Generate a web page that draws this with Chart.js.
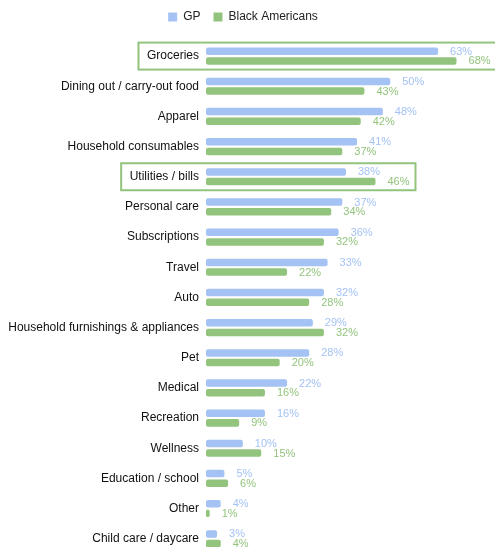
<!DOCTYPE html>
<html>
<head>
<meta charset="utf-8">
<script src="https://cdn.jsdelivr.net/npm/chart.js@4.4.1/dist/chart.umd.min.js"></script>
<style>
  html, body { margin: 0; padding: 0; background: #fff; overflow: hidden; }
  #wrap { width: 495px; height: 568px; position: relative; }
</style>
</head>
<body>
<div id="wrap"><canvas id="grafico"></canvas></div>
<script>
const categorias = [
    "Groceries", "Dining out / carry-out food", "Apparel", "Household consumables",
    "Utilities / bills", "Personal care", "Subscriptions", "Travel", "Auto",
    "Household furnishings & appliances", "Pet", "Medical", "Recreation",
    "Wellness", "Education / school", "Other", "Child care / daycare"
];
const valoresGP = [63, 50, 48, 41, 38, 37, 36, 33, 32, 29, 28, 22, 16, 10, 5, 4, 3];
const valoresBA = [68, 43, 42, 37, 46, 34, 32, 22, 28, 32, 20, 16, 9, 15, 6, 1, 4];
const destacadas = ["Groceries", "Utilities / bills"];

const azul = '#a4c2f4';
const verde = '#93c47d';

// más espacio bajo la leyenda
const espacioLeyenda = {
    id: 'espacioLeyenda',
    beforeInit(chart) {
        const fitOriginal = chart.legend.fit;
        chart.legend.fit = function () {
            fitOriginal.bind(chart.legend)();
            this.height += 8;
        };
    }
};

// etiquetas de valor al final de cada barra
const etiquetasValor = {
    id: 'etiquetasValor',
    afterDatasetsDraw(chart) {
        const ctx = chart.ctx;
        ctx.save();
        ctx.font = '11px "Liberation Sans", Arial, sans-serif';
        ctx.textAlign = 'left';
        ctx.textBaseline = 'middle';
        chart.data.datasets.forEach((ds, i) => {
            chart.getDatasetMeta(i).data.forEach((bar, j) => {
                ctx.fillStyle = ds.backgroundColor;
                ctx.fillText(ds.data[j] + '%', bar.x + 12, bar.y + 0.5);
            });
        });
        ctx.restore();
    }
};

// recuadro verde alrededor de las categorías destacadas
const recuadros = {
    id: 'recuadros',
    afterDraw(chart) {
        const ctx = chart.ctx;
        const y = chart.scales.y;
        ctx.save();
        ctx.strokeStyle = verde;
        ctx.lineWidth = 2;
        destacadas.forEach(nombre => {
            const idx = categorias.indexOf(nombre);
            const cy = y.getPixelForValue(idx);
            ctx.font = '12px "Liberation Sans", Arial, sans-serif';
            const anchoTexto = ctx.measureText(nombre).width;
            const izq = chart.chartArea.left - 7 - anchoTexto - 8.5;
            ctx.font = '11px "Liberation Sans", Arial, sans-serif';
            let der = 0;
            chart.data.datasets.forEach((ds, i) => {
                const bar = chart.getDatasetMeta(i).data[idx];
                const fin = bar.x + 12 + ctx.measureText(ds.data[idx] + '%').width;
                der = Math.max(der, fin);
            });
            der += 6;
            ctx.strokeRect(izq, cy - 13.5, der - izq, 27);
        });
        ctx.restore();
    }
};

const ctx = document.getElementById('grafico').getContext('2d');
new Chart(ctx, {
    type: 'bar',
    data: {
        labels: categorias,
        datasets: [
            { label: 'GP', data: valoresGP, backgroundColor: azul, borderRadius: 2, borderSkipped: false },
            { label: 'Black Americans', data: valoresBA, backgroundColor: verde, borderRadius: 2, borderSkipped: false }
        ]
    },
    options: {
        indexAxis: 'y',
        responsive: true,
        maintainAspectRatio: false,
        animation: false,
        categoryPercentage: 0.64,
        barPercentage: 0.78,
        layout: { padding: { left: 0, right: 9, top: -2, bottom: 0 } },
        plugins: {
            legend: {
                position: 'top',
                labels: {
                    boxWidth: 9,
                    boxHeight: 9,
                    padding: 13,
                    color: '#222',
                    font: { size: 12, family: '"Liberation Sans", Arial, sans-serif' }
                }
            },
            tooltip: { enabled: false }
        },
        scales: {
            x: {
                display: false,
                min: 0,
                max: 76
            },
            y: {
                grid: { display: false, drawTicks: false },
                border: { display: false },
                ticks: {
                    padding: 7,
                    color: '#111',
                    font: { size: 12, family: '"Liberation Sans", Arial, sans-serif' }
                },
                afterFit(scale) { scale.width = 206; }
            }
        }
    },
    plugins: [espacioLeyenda, etiquetasValor, recuadros]
});
</script>
</body>
</html>
